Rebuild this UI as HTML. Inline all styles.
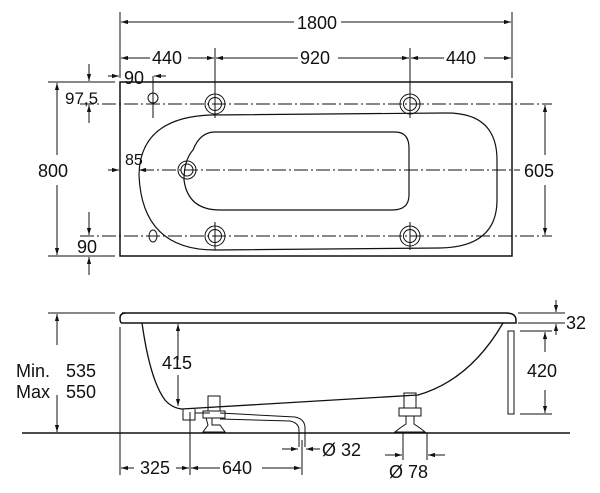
<!DOCTYPE html>
<html><head><meta charset="utf-8"><style>
html,body{margin:0;padding:0;background:#fff}
svg{display:block}
text{font-family:"Liberation Sans",Arial,sans-serif;font-size:18px;fill:#111}
</style></head><body>
<svg width="600" height="493" viewBox="0 0 600 493" xmlns="http://www.w3.org/2000/svg">
<defs>
<marker id="a" viewBox="0 0 10 10" refX="10" refY="5" markerWidth="7" markerHeight="7" orient="auto-start-reverse"><path d="M0,2 L10,5 L0,8 z" fill="#111"/></marker>
</defs>
<g stroke="#111" stroke-width="1" fill="none">
<line x1="120" y1="12" x2="120" y2="78"/><line x1="512" y1="12" x2="512" y2="78"/>
<line x1="215" y1="48" x2="215" y2="118"/><line x1="410" y1="48" x2="410" y2="118"/>
<line x1="215" y1="222" x2="215" y2="250"/><line x1="410" y1="222" x2="410" y2="250"/>
<line x1="153" y1="76" x2="153" y2="118"/>
<line x1="121" y1="22" x2="294" y2="22" marker-start="url(#a)"/><line x1="341" y1="22" x2="511" y2="22" marker-end="url(#a)"/>
<line x1="121" y1="58" x2="150" y2="58" marker-start="url(#a)"/><line x1="188" y1="58" x2="214" y2="58" marker-end="url(#a)"/>
<line x1="216" y1="58" x2="298" y2="58" marker-start="url(#a)"/><line x1="338" y1="58" x2="409" y2="58" marker-end="url(#a)"/>
<line x1="411" y1="58" x2="444" y2="58" marker-start="url(#a)"/><line x1="484" y1="58" x2="511" y2="58" marker-end="url(#a)"/>
<line x1="108" y1="76" x2="119" y2="76" marker-end="url(#a)"/><line x1="166" y1="76" x2="154" y2="76" marker-end="url(#a)"/>
<line x1="48" y1="82" x2="115" y2="82"/><line x1="48" y1="256" x2="115" y2="256"/>
<line x1="57" y1="83" x2="57" y2="155" marker-start="url(#a)"/><line x1="57" y1="185" x2="57" y2="255" marker-end="url(#a)"/>
<line x1="89" y1="64" x2="89" y2="81" marker-end="url(#a)"/><line x1="89" y1="123" x2="89" y2="105" marker-end="url(#a)"/>
<line x1="80" y1="104" x2="552" y2="104" stroke-dasharray="14,3,2,3"/>
<line x1="80" y1="236" x2="552" y2="236" stroke-dasharray="14,3,2,3"/>
<line x1="140" y1="170" x2="520" y2="170" stroke-dasharray="14,3,2,3"/>
<line x1="89" y1="212" x2="89" y2="235" marker-end="url(#a)"/><line x1="89" y1="275" x2="89" y2="257" marker-end="url(#a)"/>
<line x1="100" y1="256" x2="112" y2="256"/>
<line x1="108" y1="170" x2="119" y2="170" marker-end="url(#a)"/><line x1="150" y1="170" x2="139" y2="170" marker-end="url(#a)"/>
<line x1="545" y1="105" x2="545" y2="155" marker-start="url(#a)"/><line x1="545" y1="185" x2="545" y2="235" marker-end="url(#a)"/>
<rect x="120" y="82" width="392" height="174" stroke-width="1.5"/>
<path d="M210,115 L445,113 Q497,112 497,160 L497,200 Q497,247 440,248 L215,250 Q142,250 139,175 Q140,118 210,115 Z" stroke-width="1.2"/>
<path d="M215,132 L395,132 Q409,132 409,148 L409,195 Q409,210 392,210 L220,210 Q188,210 184,180 Q184,160 193,150 Q200,132 215,132 Z" stroke-width="1.2"/>
<circle cx="187" cy="170" r="9"/><circle cx="187" cy="170" r="6"/>
<g><circle cx="215" cy="104" r="10"/><circle cx="215" cy="104" r="6.5"/>
<circle cx="410" cy="104" r="10"/><circle cx="410" cy="104" r="6.5"/>
<circle cx="215" cy="236" r="10"/><circle cx="215" cy="236" r="6.5"/>
<circle cx="410" cy="236" r="10"/><circle cx="410" cy="236" r="6.5"/></g>
<circle cx="153" cy="98" r="5"/><ellipse cx="153" cy="236" rx="4" ry="6"/>
<path d="M122,313 L506,313 Q516,313 516,320 L516,323 L122,323 Q120,323 120,318 Q120,313 126,313" stroke-width="1.5"/>
<path d="M142,323 Q150,380 165,400 Q172,408 182,409 L418,395 Q470,380 503,323" stroke-width="1.3"/>
<rect x="508" y="331" width="6" height="83"/>
<line x1="22" y1="433" x2="570" y2="433" stroke-width="1.5"/>
<line x1="48" y1="313" x2="115" y2="313"/>
<line x1="57" y1="314" x2="57" y2="345" marker-start="url(#a)"/><line x1="57" y1="395" x2="57" y2="432" marker-end="url(#a)"/>
<line x1="178" y1="324" x2="178" y2="360" marker-start="url(#a)"/><line x1="178" y1="375" x2="178" y2="406" marker-end="url(#a)"/>
<line x1="520" y1="331" x2="552" y2="331"/><line x1="520" y1="414" x2="552" y2="414"/>
<line x1="545" y1="332" x2="545" y2="352" marker-start="url(#a)"/><line x1="545" y1="390" x2="545" y2="413" marker-end="url(#a)"/>
<line x1="518" y1="313" x2="565" y2="313"/><line x1="518" y1="323" x2="565" y2="323"/>
<line x1="556" y1="300" x2="556" y2="312" marker-end="url(#a)"/><line x1="556" y1="335" x2="556" y2="324" marker-end="url(#a)"/>
<rect x="208" y="396" width="12" height="15"/><rect x="203" y="411" width="22" height="7"/>
<path d="M206,418 L212,418 L212,425 L220,425 L225,432 L203,432 L208,425 Z"/>
<rect x="404" y="393" width="12" height="15"/><rect x="399" y="408" width="22" height="8"/>
<path d="M406,416 L414,416 L414,424 L420,428 L425,432 L395,432 L400,428 L406,424 Z"/>
<path d="M183,409 L183,420 L195,420 L195,409"/>
<path d="M195,413 L210,413 M220,413 L295,417 Q305,419 305,428 L305,447 M220,419 L290,421 Q299,423 299,430 L299,447" />
<line x1="120" y1="327" x2="120" y2="475"/><line x1="190" y1="412" x2="190" y2="475"/>
<line x1="302" y1="440" x2="302" y2="475"/>
<line x1="121" y1="468" x2="134" y2="468" marker-start="url(#a)"/><line x1="176" y1="468" x2="189" y2="468" marker-end="url(#a)"/>
<line x1="191" y1="468" x2="220" y2="468" marker-start="url(#a)"/><line x1="262" y1="468" x2="301" y2="468" marker-end="url(#a)"/>
<line x1="282" y1="449" x2="298" y2="449" marker-end="url(#a)"/><line x1="320" y1="449" x2="306" y2="449" marker-end="url(#a)"/>
<line x1="403" y1="433" x2="403" y2="460"/><line x1="427" y1="433" x2="427" y2="460"/>
<line x1="385" y1="455" x2="402" y2="455" marker-end="url(#a)"/><line x1="445" y1="455" x2="428" y2="455" marker-end="url(#a)"/>
</g>
<text x="297" y="29">1800</text>
<text x="152" y="64">440</text><text x="300" y="64">920</text><text x="446" y="64">440</text>
<text x="124" y="84">90</text>
<text x="65" y="104" style="font-size:17px">97,5</text>
<text x="38" y="177">800</text>
<text x="125" y="165" style="font-size:16px">85</text>
<text x="524" y="177">605</text>
<text x="77" y="253">90</text>
<text x="16" y="377">Min.</text><text x="66" y="377">535</text>
<text x="16" y="398">Max</text><text x="66" y="398">550</text>
<text x="162" y="369">415</text>
<text x="527" y="377">420</text>
<text x="566" y="329">32</text>
<text x="140" y="474">325</text><text x="222" y="474">640</text>
<text x="322" y="456">Ø 32</text>
<text x="389" y="478">Ø 78</text>
</svg>
</body></html>
